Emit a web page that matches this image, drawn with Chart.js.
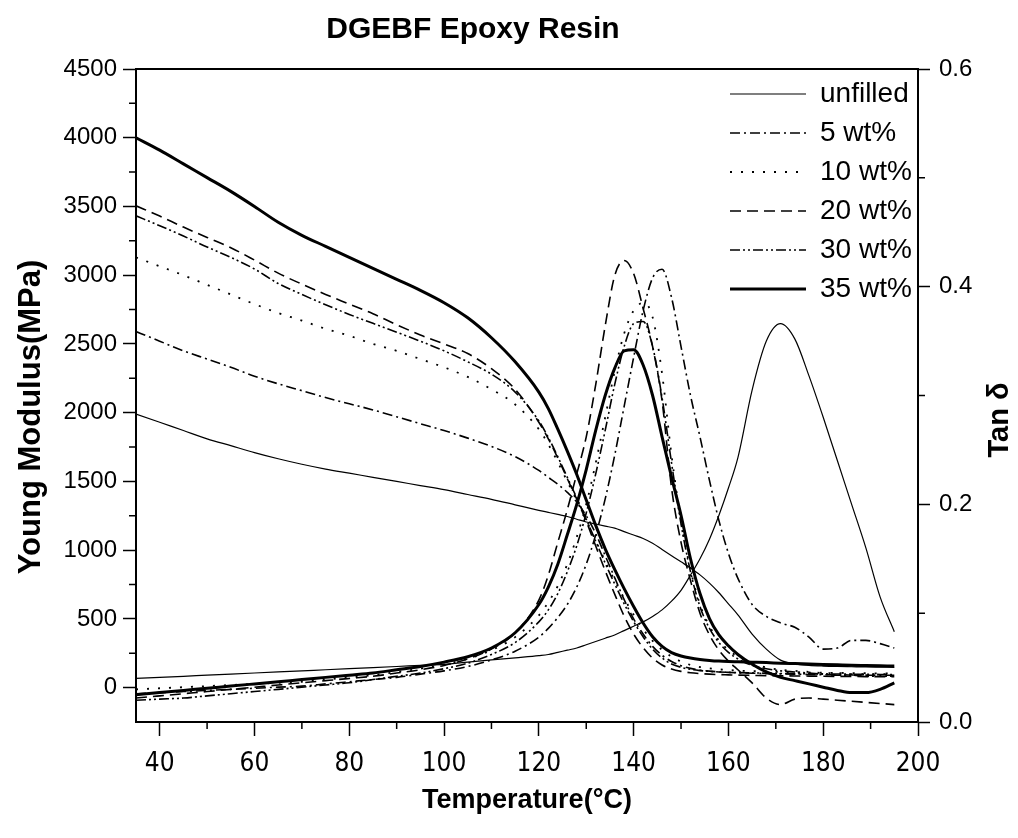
<!DOCTYPE html>
<html>
<head>
<meta charset="utf-8">
<title>DGEBF Epoxy Resin</title>
<script src="https://cdn.jsdelivr.net/npm/chart.js@4.4.1/dist/chart.umd.min.js"></script>
<style>
  body { margin: 0; background: #fff; }
  #wrap { width: 1018px; height: 838px; }
</style>
</head>
<body>
<div id="wrap"><canvas id="myChart" width="1018" height="838"></canvas></div>
<script>
const chartTitle = "DGEBF Epoxy Resin";
const leftTitle = "Young Modulus(MPa)";
const rightTitle = "Tan δ";
const labels = ["unfilled", "5 wt%", "10 wt%", "20 wt%", "30 wt%", "35 wt%"];

// temperature (°C) shared by every curve
const temps = [35, 40, 45, 50, 55, 60, 65, 70, 75, 80, 85, 90, 95, 100, 105, 110, 115,
  120, 122, 124, 126, 128, 130, 132, 134, 136, 138, 140, 142, 144, 146, 148, 150, 152, 154, 156, 158, 160, 162,
  165, 168, 171, 174, 177, 180, 183, 186, 189, 192, 195];

// Young modulus (MPa), left axis
const modUnfilled = [1990, 1930, 1870, 1810, 1760, 1710, 1665, 1625, 1590, 1560, 1530, 1500, 1470, 1440, 1405, 1370, 1330,
  1290, 1275, 1260, 1245, 1225, 1205, 1190, 1175, 1160, 1135, 1110, 1085, 1050, 1005, 960, 915, 870, 820, 760, 690, 610, 530,
  390, 280, 200, 172, 162, 157, 154, 152, 150, 149, 148];
const mod5 = [2590, 2520, 2450, 2390, 2330, 2265, 2210, 2160, 2110, 2065, 2020, 1970, 1920, 1870, 1815, 1755, 1680,
  1580, 1530, 1480, 1420, 1350, 1250, 1120, 960, 800, 640, 500, 390, 300, 235, 190, 160, 140, 128, 120, 115, 111, 108,
  105, 102, 100, 98, 96, 94, 93, 92, 91, 90, 90];
const mod10 = [3130, 3065, 3000, 2930, 2860, 2790, 2725, 2670, 2610, 2560, 2500, 2450, 2390, 2330, 2260, 2170, 2060,
  1880, 1770, 1640, 1500, 1360, 1220, 1070, 920, 780, 650, 530, 425, 340, 275, 225, 190, 165, 150, 140, 133, 128, 124,
  120, 117, 114, 112, 110, 108, 107, 106, 105, 104, 103];
const mod20 = [3505, 3430, 3350, 3275, 3200, 3110, 3015, 2935, 2860, 2790, 2720, 2640, 2565, 2500, 2430, 2320, 2170,
  1930, 1810, 1670, 1520, 1370, 1210, 1030, 850, 680, 520, 390, 290, 215, 165, 135, 118, 108, 102, 98, 95, 93, 91,
  89, 87, 86, 85, 84, 83, 82, 81, 80, 80, 79];
const mod30 = [3432, 3360, 3285, 3205, 3130, 3045, 2940, 2860, 2785, 2715, 2650, 2585, 2520, 2450, 2370, 2280, 2150,
  1940, 1820, 1680, 1530, 1380, 1225, 1065, 905, 755, 610, 480, 370, 280, 215, 172, 148, 133, 124, 118, 114, 111, 109,
  107, 105, 103, 102, 101, 100, 99, 98, 97, 96, 95];
const mod35 = [4000, 3910, 3810, 3710, 3610, 3500, 3385, 3290, 3210, 3130, 3050, 2970, 2890, 2800, 2690, 2545, 2370,
  2150, 2030, 1880, 1720, 1550, 1365, 1180, 1010, 860, 720, 590, 470, 370, 300, 255, 230, 215, 205, 198, 193, 190, 188,
  185, 182, 178, 175, 172, 169, 166, 163, 161, 159, 157];

// tan delta, right axis
const tanUnfilled = [0.040, 0.041, 0.042, 0.043, 0.044, 0.045, 0.046, 0.047, 0.048, 0.049, 0.050, 0.051, 0.052, 0.053, 0.055, 0.057, 0.059,
  0.061, 0.062, 0.064, 0.066, 0.068, 0.071, 0.074, 0.077, 0.080, 0.084, 0.088, 0.092, 0.097, 0.103, 0.111, 0.121, 0.135, 0.150, 0.168, 0.190, 0.215, 0.243,
  0.305, 0.350, 0.366, 0.352, 0.318, 0.280, 0.240, 0.200, 0.160, 0.115, 0.083];
const tan5 = [0.026, 0.027, 0.028, 0.029, 0.030, 0.031, 0.032, 0.033, 0.035, 0.037, 0.039, 0.041, 0.044, 0.047, 0.051, 0.057, 0.065,
  0.078, 0.086, 0.096, 0.108, 0.124, 0.145, 0.172, 0.205, 0.245, 0.290, 0.335, 0.378, 0.408, 0.416, 0.390, 0.345, 0.300, 0.262, 0.222, 0.185, 0.155, 0.132,
  0.108, 0.097, 0.091, 0.087, 0.078, 0.067, 0.068, 0.075, 0.075, 0.072, 0.068];
const tan10 = [0.030, 0.031, 0.032, 0.033, 0.034, 0.035, 0.036, 0.037, 0.039, 0.041, 0.043, 0.046, 0.049, 0.053, 0.058, 0.066, 0.078,
  0.098, 0.110, 0.125, 0.145, 0.170, 0.200, 0.238, 0.280, 0.322, 0.357, 0.378, 0.385, 0.372, 0.320, 0.245, 0.185, 0.140, 0.108, 0.088, 0.075, 0.066, 0.060,
  0.054, 0.050, 0.048, 0.047, 0.046, 0.045, 0.045, 0.044, 0.044, 0.044, 0.044];
const tan20 = [0.022, 0.024, 0.026, 0.028, 0.030, 0.032, 0.034, 0.036, 0.038, 0.040, 0.042, 0.045, 0.048, 0.052, 0.058, 0.067, 0.082,
  0.112, 0.135, 0.165, 0.195, 0.228, 0.262, 0.310, 0.364, 0.410, 0.424, 0.412, 0.380, 0.345, 0.295, 0.215, 0.165, 0.130, 0.100, 0.080, 0.066, 0.056, 0.048,
  0.036, 0.022, 0.016, 0.021, 0.022, 0.021, 0.020, 0.019, 0.018, 0.017, 0.016];
const tan30 = [0.020, 0.021, 0.022, 0.024, 0.026, 0.028, 0.030, 0.032, 0.034, 0.036, 0.039, 0.042, 0.045, 0.049, 0.054, 0.062, 0.073,
  0.092, 0.103, 0.118, 0.138, 0.162, 0.192, 0.228, 0.268, 0.310, 0.345, 0.366, 0.368, 0.345, 0.298, 0.238, 0.182, 0.138, 0.106, 0.086, 0.073, 0.064, 0.058,
  0.052, 0.049, 0.047, 0.046, 0.045, 0.044, 0.043, 0.043, 0.042, 0.042, 0.042];
const tan35 = [0.025, 0.027, 0.029, 0.031, 0.033, 0.035, 0.037, 0.039, 0.041, 0.043, 0.045, 0.048, 0.051, 0.055, 0.060, 0.068, 0.082,
  0.108, 0.124, 0.145, 0.172, 0.200, 0.232, 0.268, 0.300, 0.325, 0.341, 0.342, 0.328, 0.300, 0.262, 0.225, 0.190, 0.150, 0.118, 0.095, 0.080, 0.070, 0.062,
  0.053, 0.046, 0.041, 0.038, 0.035, 0.032, 0.029, 0.027, 0.027, 0.030, 0.036];

// axis ticks
const xTicks = [40, 60, 80, 100, 120, 140, 160, 180, 200];
const xMinor = [50, 70, 90, 110, 130, 150, 170, 190];
const yTicks = [0, 500, 1000, 1500, 2000, 2500, 3000, 3500, 4000, 4500];
const yMinor = [250, 750, 1250, 1750, 2250, 2750, 3250, 3750, 4250];
const y2Ticks = [0, 0.2, 0.4, 0.6];
const y2Minor = [0.1, 0.3, 0.5];

const modulus = [modUnfilled, mod5, mod10, mod20, mod30, mod35];
const tanDelta = [tanUnfilled, tan5, tan10, tan20, tan30, tan35];
const widths = [1.2, 1.6, 1.8, 1.6, 1.6, 3];
const dashes = [[], [10, 4, 2, 4], [2, 9], [11, 6], [10, 3, 2, 3, 2, 3], []];

const sansFont = '"Liberation Sans", Arial, sans-serif';
const narrowFont = '"Liberation Sans Narrow", "DejaVu Sans Condensed", "Liberation Sans", sans-serif';
Chart.defaults.font.family = sansFont;
Chart.defaults.color = '#000';

function toPoints(values) {
  return temps.map((t, i) => ({ x: t, y: values[i] }));
}

function curve(i, values, axis) {
  return {
    label: labels[i],
    data: toPoints(values),
    yAxisID: axis,
    borderColor: '#000',
    backgroundColor: '#000',
    borderWidth: widths[i],
    borderDash: dashes[i],
    pointRadius: 0,
    fill: false,
    cubicInterpolationMode: 'monotone'
  };
}

const datasets = [];
labels.forEach((lab, i) => {
  datasets.push(curve(i, modulus[i], 'y'));
  datasets.push(curve(i, tanDelta[i], 'y2'));
});

function rotatedText(ctx, text, x, y) {
  ctx.save();
  ctx.translate(x, y);
  ctx.rotate(-Math.PI / 2);
  ctx.fillText(text, 0, 0);
  ctx.restore();
}

// minor ticks, top-right legend placement and the extra texts
const extras = {
  id: 'extras',
  afterLayout(chart) {
    const lg = chart.legend;
    const w = lg.width, h = lg.height;
    lg.left = chart.chartArea.right - 199;
    lg.right = lg.left + w;
    lg.top = chart.chartArea.top;
    lg.bottom = lg.top + h;
  },
  afterDraw(chart) {
    const { ctx, chartArea, scales } = chart;
    ctx.save();
    ctx.strokeStyle = '#000';
    ctx.lineWidth = 1.5;
    ctx.beginPath();
    xMinor.forEach(v => {
      const px = scales.x.getPixelForValue(v);
      ctx.moveTo(px, chartArea.bottom);
      ctx.lineTo(px, chartArea.bottom + 7);
    });
    yMinor.forEach(v => {
      const py = scales.y.getPixelForValue(v);
      ctx.moveTo(chartArea.left, py);
      ctx.lineTo(chartArea.left - 7, py);
    });
    y2Minor.forEach(v => {
      const py = scales.y2.getPixelForValue(v);
      ctx.moveTo(chartArea.right, py);
      ctx.lineTo(chartArea.right + 7, py);
    });
    ctx.stroke();

    ctx.fillStyle = '#000';
    ctx.textAlign = 'center';
    ctx.textBaseline = 'middle';
    ctx.font = 'bold 30px ' + sansFont;
    ctx.fillText(chartTitle, 473, 30);
    ctx.font = 'bold 31px ' + sansFont;
    rotatedText(ctx, leftTitle, 31, 417);
    ctx.font = 'bold 29px ' + sansFont;
    rotatedText(ctx, rightTitle, 1000, 420);
    ctx.restore();
  }
};

const axisBorder = { display: true, color: '#000', width: 2 };

var ctx = document.getElementById("myChart").getContext('2d');
var myChart = new Chart(ctx, {
  type: 'line',
  data: { datasets: datasets },
  options: {
    responsive: false,
    animation: false,
    layout: { padding: { top: 69, left: 0, right: 0, bottom: 0 } },
    plugins: {
      title: { display: false },
      tooltip: { enabled: false },
      legend: {
        position: 'chartArea',
        align: 'start',
        labels: {
          usePointStyle: true,
          pointStyleWidth: 76,
          padding: 11,
          color: '#000',
          font: { size: 28, family: sansFont },
          generateLabels: chart => chart.data.datasets
            .map((ds, i) => ({ ds, i }))
            .filter(o => o.ds.yAxisID === 'y')
            .map(o => ({
              text: o.ds.label,
              datasetIndex: o.i,
              strokeStyle: '#000',
              fillStyle: '#000',
              fontColor: '#000',
              lineWidth: o.ds.borderWidth,
              lineDash: o.ds.borderDash,
              pointStyle: 'line',
              hidden: false
            }))
        }
      }
    },
    scales: {
      x: {
        type: 'linear',
        position: 'bottom',
        min: 35,
        max: 200,
        afterBuildTicks: s => { s.ticks = xTicks.map(v => ({ value: v })); },
        afterFit: s => { s.height = 116; },
        grid: { drawOnChartArea: false, tickLength: 14, tickWidth: 1.5, tickColor: '#000' },
        border: axisBorder,
        ticks: { padding: 13, maxRotation: 0, font: { size: 26, family: narrowFont }, callback: v => String(v) },
        title: { display: true, text: 'Temperature(°C)', padding: { bottom: 21 }, font: { size: 27, weight: 'bold', family: sansFont } }
      },
      xTop: {
        type: 'linear',
        position: 'top',
        min: 35,
        max: 200,
        afterFit: s => { s.height = 0; },
        grid: { display: false },
        border: axisBorder,
        ticks: { display: false }
      },
      y: {
        type: 'linear',
        position: 'left',
        min: -250,
        max: 4500,
        afterBuildTicks: s => { s.ticks = yTicks.map(v => ({ value: v })); },
        afterFit: s => { s.width = 136; },
        grid: { drawOnChartArea: false, tickLength: 13, tickWidth: 1.5, tickColor: '#000' },
        border: axisBorder,
        ticks: { padding: 6, font: { size: 24 }, callback: v => String(v) }
      },
      y2: {
        type: 'linear',
        position: 'right',
        min: 0,
        max: 0.6,
        afterBuildTicks: s => { s.ticks = y2Ticks.map(v => ({ value: v })); },
        afterFit: s => { s.width = 100; },
        grid: { drawOnChartArea: false, tickLength: 12, tickWidth: 1.5, tickColor: '#000' },
        border: axisBorder,
        ticks: { padding: 9, font: { size: 24 }, callback: v => v.toFixed(1) }
      }
    }
  },
  plugins: [extras]
});
</script>
</body>
</html>
